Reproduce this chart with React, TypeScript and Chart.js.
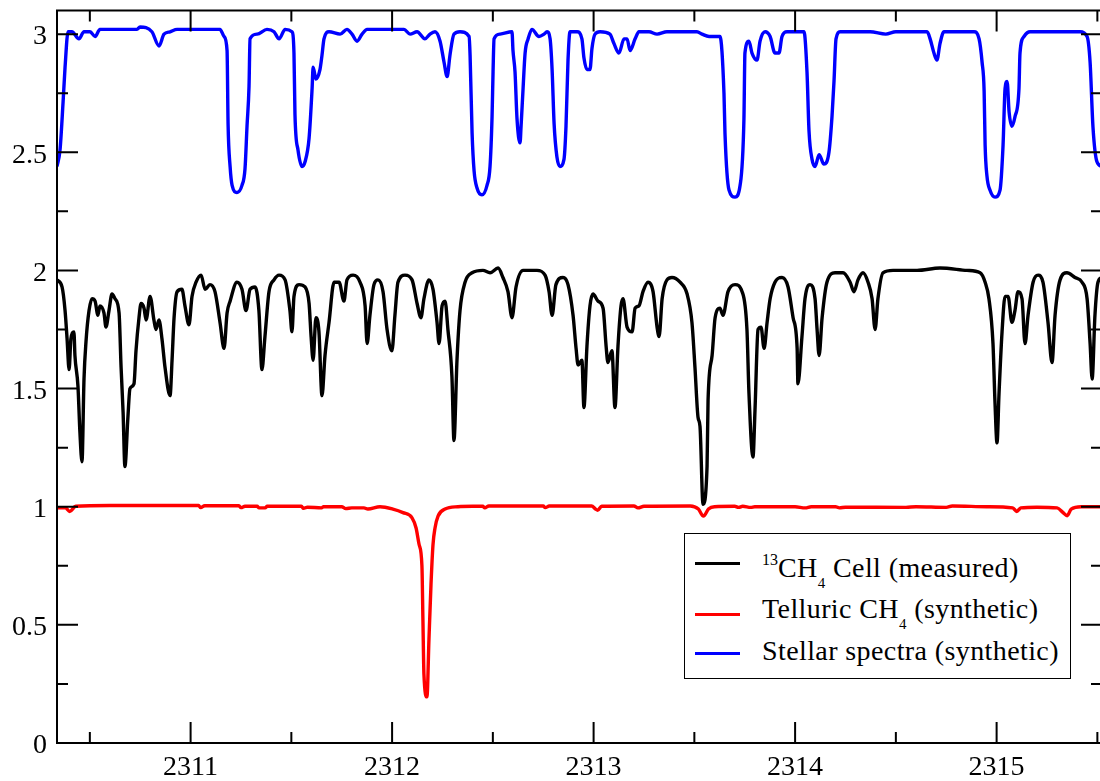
import React, { useEffect, useRef } from "react";
import { Chart, registerables } from "chart.js";

Chart.register(...registerables);

// Wavelength (nm) and normalised flux + offset
const cellSpectrum: [number, number][] = [
  [2310.337,1.96],[2310.362,1.93],[2310.377,1.83],[2310.387,1.71],[2310.397,1.58],[2310.406,1.71],[2310.421,1.74],[2310.426,1.64],[2310.441,1.51],[2310.451,1.31],[2310.461,1.19],[2310.471,1.54],[2310.481,1.70],[2310.496,1.83],[2310.511,1.88],[2310.526,1.87],[2310.540,1.81],[2310.550,1.85],[2310.570,1.82],[2310.580,1.76],[2310.595,1.83],[2310.610,1.90],[2310.625,1.88],[2310.645,1.82],[2310.655,1.59],[2310.665,1.40],[2310.674,1.17],[2310.689,1.38],[2310.699,1.50],[2310.719,1.52],[2310.729,1.66],[2310.744,1.80],[2310.754,1.86],[2310.769,1.84],[2310.779,1.79],[2310.799,1.89],[2310.818,1.79],[2310.828,1.75],[2310.843,1.79],[2310.858,1.71],[2310.873,1.59],[2310.898,1.47],[2310.908,1.62],[2310.918,1.80],[2310.933,1.91],[2310.957,1.92],[2310.972,1.85],[2310.992,1.77],[2311.007,1.89],[2311.027,1.95],[2311.052,1.98],[2311.072,1.92],[2311.096,1.94],[2311.121,1.91],[2311.146,1.78],[2311.166,1.67],[2311.181,1.82],[2311.196,1.87],[2311.230,1.95],[2311.255,1.92],[2311.275,1.83],[2311.295,1.92],[2311.320,1.93],[2311.339,1.83],[2311.354,1.58],[2311.369,1.72],[2311.389,1.91],[2311.414,1.96],[2311.439,1.98],[2311.469,1.96],[2311.493,1.83],[2311.503,1.74],[2311.513,1.89],[2311.538,1.94],[2311.568,1.93],[2311.588,1.86],[2311.598,1.72],[2311.608,1.62],[2311.622,1.80],[2311.637,1.74],[2311.652,1.47],[2311.667,1.64],[2311.687,1.78],[2311.712,1.95],[2311.737,1.95],[2311.761,1.87],[2311.776,1.96],[2311.806,1.98],[2311.841,1.95],[2311.866,1.85],[2311.876,1.69],[2311.890,1.81],[2311.910,1.94],[2311.930,1.96],[2311.955,1.91],[2311.975,1.75],[2311.999,1.66],[2312.014,1.81],[2312.029,1.95],[2312.064,1.98],[2312.099,1.96],[2312.124,1.86],[2312.143,1.80],[2312.158,1.88],[2312.183,1.96],[2312.203,1.92],[2312.223,1.78],[2312.233,1.69],[2312.248,1.85],[2312.263,1.87],[2312.277,1.75],[2312.297,1.55],[2312.307,1.28],[2312.322,1.62],[2312.337,1.83],[2312.362,1.95],[2312.397,1.99],[2312.451,2.00],[2312.486,1.99],[2312.526,2.01],[2312.550,1.97],[2312.575,1.91],[2312.595,1.80],[2312.615,1.93],[2312.650,2.00],[2312.719,2.00],[2312.759,1.98],[2312.779,1.91],[2312.794,1.81],[2312.813,1.94],[2312.848,1.97],[2312.873,1.94],[2312.898,1.81],[2312.913,1.67],[2312.923,1.60],[2312.942,1.62],[2312.952,1.42],[2312.967,1.68],[2312.982,1.85],[2312.997,1.90],[2313.022,1.87],[2313.047,1.84],[2313.062,1.68],[2313.071,1.61],[2313.091,1.66],[2313.106,1.42],[2313.121,1.68],[2313.136,1.85],[2313.146,1.88],[2313.166,1.76],[2313.191,1.74],[2313.206,1.84],[2313.225,1.85],[2313.245,1.91],[2313.270,1.95],[2313.295,1.91],[2313.315,1.76],[2313.325,1.72],[2313.340,1.88],[2313.364,1.96],[2313.389,1.97],[2313.429,1.95],[2313.464,1.90],[2313.488,1.78],[2313.503,1.59],[2313.518,1.38],[2313.528,1.34],[2313.543,1.01],[2313.563,1.17],[2313.568,1.45],[2313.588,1.64],[2313.603,1.80],[2313.627,1.84],[2313.642,1.81],[2313.667,1.91],[2313.702,1.94],[2313.737,1.91],[2313.761,1.75],[2313.771,1.48],[2313.791,1.21],[2313.801,1.41],[2313.816,1.75],[2313.831,1.76],[2313.846,1.67],[2313.861,1.78],[2313.876,1.88],[2313.900,1.95],[2313.935,1.97],[2313.965,1.93],[2313.990,1.80],[2314.010,1.67],[2314.014,1.52],[2314.034,1.72],[2314.049,1.88],[2314.074,1.94],[2314.099,1.88],[2314.109,1.75],[2314.119,1.64],[2314.134,1.80],[2314.158,1.95],[2314.198,1.99],[2314.238,1.99],[2314.273,1.95],[2314.292,1.91],[2314.312,1.96],[2314.337,1.99],[2314.362,1.95],[2314.382,1.88],[2314.397,1.75],[2314.411,1.88],[2314.436,1.99],[2314.486,2.00],[2314.605,2.00],[2314.719,2.01],[2314.853,2.00],[2314.918,1.99],[2314.943,1.95],[2314.962,1.88],[2314.982,1.69],[2314.992,1.44],[2315.002,1.27],[2315.012,1.48],[2315.027,1.74],[2315.042,1.89],[2315.057,1.89],[2315.076,1.78],[2315.091,1.83],[2315.106,1.91],[2315.126,1.88],[2315.141,1.69],[2315.156,1.81],[2315.181,1.95],[2315.206,1.98],[2315.230,1.95],[2315.255,1.78],[2315.275,1.61],[2315.290,1.81],[2315.315,1.96],[2315.349,1.99],[2315.389,1.97],[2315.424,1.95],[2315.449,1.88],[2315.464,1.69],[2315.474,1.54],[2315.488,1.81],[2315.503,1.95],[2315.523,1.97]
];

const telluricSpectrum: [number, number][] = [
  [2310.337,0.995],[2310.38,0.995],[2310.40,0.98],[2310.43,1.002],[2310.60,1.005],[2311.04,1.005],[2311.05,0.996],[2311.07,1.004],[2311.24,1.004],[2311.25,0.996],[2311.27,1.002],[2311.33,1.002],[2311.34,0.995],[2311.37,0.995],[2311.38,1.002],[2311.55,1.002],[2311.56,0.993],[2311.58,0.998],[2311.65,0.995],[2311.66,1.0],[2311.75,1.0],[2311.77,0.992],[2311.80,0.995],[2311.86,0.995],[2311.88,0.99],[2311.94,1.0],[2312.004,0.99],[2312.054,0.975],[2312.099,0.953],[2312.119,0.91],[2312.134,0.84],[2312.148,0.75],[2312.153,0.52],[2312.158,0.29],[2312.173,0.195],[2312.183,0.44],[2312.193,0.67],[2312.203,0.84],[2312.213,0.91],[2312.228,0.96],[2312.263,0.99],[2312.327,1.0],[2312.40,1.002],[2312.45,1.002],[2312.46,0.995],[2312.48,1.003],[2312.75,1.003],[2312.76,0.996],[2312.78,1.003],[2312.99,1.003],[2313.01,0.99],[2313.02,0.985],[2313.04,1.002],[2313.20,1.003],[2313.22,0.995],[2313.25,1.002],[2313.48,1.003],[2313.52,0.99],[2313.545,0.96],[2313.57,0.99],[2313.60,1.0],[2313.70,1.002],[2313.72,0.997],[2313.74,1.002],[2313.78,0.997],[2313.80,1.0],[2314.00,1.0],[2314.05,0.995],[2314.08,1.0],[2314.20,1.0],[2314.22,0.995],[2314.25,0.998],[2314.55,0.997],[2314.60,1.0],[2314.75,0.997],[2314.78,1.003],[2314.95,1.0],[2315.08,0.995],[2315.10,0.98],[2315.12,0.995],[2315.20,0.998],[2315.30,0.995],[2315.33,0.975],[2315.35,0.962],[2315.37,0.99],[2315.42,1.0],[2315.523,1.0]
];

const stellarSpectrum: [number, number][] = [
  [2310.337,2.44],[2310.352,2.51],[2310.367,2.71],[2310.377,2.86],[2310.392,3.01],[2310.411,3.01],[2310.446,2.98],[2310.471,3.01],[2310.501,3.01],[2310.526,2.99],[2310.550,3.02],[2310.734,3.02],[2310.749,3.03],[2310.808,3.01],[2310.843,2.95],[2310.868,3.00],[2310.898,3.01],[2310.933,3.02],[2311.146,3.02],[2311.166,2.99],[2311.181,2.93],[2311.186,2.62],[2311.196,2.44],[2311.206,2.36],[2311.230,2.33],[2311.255,2.36],[2311.270,2.43],[2311.280,2.61],[2311.290,2.78],[2311.295,2.98],[2311.330,3.00],[2311.379,3.02],[2311.414,3.01],[2311.439,2.98],[2311.469,3.02],[2311.503,3.01],[2311.513,2.92],[2311.518,2.66],[2311.533,2.51],[2311.553,2.44],[2311.568,2.46],[2311.588,2.56],[2311.603,2.77],[2311.608,2.86],[2311.622,2.81],[2311.642,2.85],[2311.652,2.91],[2311.662,2.98],[2311.687,3.01],[2311.742,3.00],[2311.776,3.02],[2311.801,3.00],[2311.826,2.97],[2311.851,3.00],[2311.876,3.02],[2312.059,3.02],[2312.089,3.00],[2312.124,3.01],[2312.163,2.98],[2312.188,3.00],[2312.213,3.01],[2312.238,2.97],[2312.258,2.88],[2312.273,2.82],[2312.287,2.91],[2312.307,3.00],[2312.337,3.01],[2312.382,2.99],[2312.387,2.91],[2312.397,2.58],[2312.407,2.42],[2312.421,2.35],[2312.446,2.32],[2312.471,2.36],[2312.486,2.44],[2312.496,2.65],[2312.501,2.84],[2312.506,2.98],[2312.536,3.00],[2312.595,3.01],[2312.600,2.93],[2312.610,2.84],[2312.620,2.64],[2312.635,2.54],[2312.640,2.61],[2312.650,2.77],[2312.660,2.92],[2312.675,2.98],[2312.694,3.02],[2312.729,2.99],[2312.754,3.00],[2312.769,3.01],[2312.784,2.98],[2312.794,2.85],[2312.804,2.62],[2312.818,2.48],[2312.833,2.44],[2312.853,2.47],[2312.863,2.61],[2312.873,2.89],[2312.883,3.01],[2312.918,3.01],[2312.942,2.98],[2312.952,2.90],[2312.967,2.85],[2312.982,2.85],[2312.992,2.94],[2313.007,3.00],[2313.032,3.01],[2313.081,3.00],[2313.101,2.96],[2313.126,2.92],[2313.151,2.98],[2313.166,2.98],[2313.181,2.93],[2313.206,2.98],[2313.225,3.01],[2313.275,3.01],[2313.315,3.00],[2313.364,3.01],[2313.513,3.01],[2313.538,3.00],[2313.573,2.99],[2313.627,2.99],[2313.647,2.75],[2313.652,2.58],[2313.672,2.34],[2313.702,2.31],[2313.727,2.36],[2313.746,2.64],[2313.751,2.92],[2313.771,2.97],[2313.786,2.92],[2313.811,2.89],[2313.826,2.97],[2313.851,3.01],[2313.876,2.99],[2313.900,2.92],[2313.920,2.92],[2313.935,2.99],[2313.960,3.01],[2314.044,3.01],[2314.059,2.84],[2314.069,2.59],[2314.084,2.47],[2314.099,2.44],[2314.119,2.49],[2314.143,2.45],[2314.168,2.50],[2314.183,2.65],[2314.193,2.80],[2314.203,2.98],[2314.223,3.01],[2314.372,3.01],[2314.45,3.00],[2314.50,3.01],[2314.655,3.01],[2314.670,2.98],[2314.689,2.92],[2314.704,2.89],[2314.719,2.96],[2314.739,3.01],[2314.888,3.01],[2314.913,2.98],[2314.928,2.88],[2314.938,2.76],[2314.943,2.53],[2314.952,2.40],[2314.967,2.34],[2314.992,2.31],[2315.017,2.34],[2315.032,2.53],[2315.042,2.77],[2315.052,2.80],[2315.062,2.67],[2315.076,2.61],[2315.091,2.65],[2315.111,2.77],[2315.116,2.92],[2315.136,2.99],[2315.166,3.01],[2315.414,3.01],[2315.449,2.99],[2315.464,2.88],[2315.478,2.61],[2315.498,2.46],[2315.523,2.44]
];

const seriesLabels = ["13CH4 Cell (measured)", "Telluric CH4 (synthetic)", "Stellar spectra (synthetic)"];
const seriesColors = ["#000000", "#ff0000", "#0000ff"];

const xRange = [2310.337, 2315.523];
const yRange = [0, 3.1];
const xMajorTicks = [2311, 2312, 2313, 2314, 2315];
const xMinorTicks = [2310.5, 2311.5, 2312.5, 2313.5, 2314.5, 2315.5];
const yMajorTicks = [0, 0.5, 1, 1.5, 2, 2.5, 3];
const yMinorTicks = [0.25, 0.75, 1.25, 1.75, 2.25, 2.75];

const SERIF = "'Liberation Serif', 'Times New Roman', serif";

const framePlugin = {
  id: "frameTicks",
  afterDatasetsDraw(chart: any) {
    const { ctx, chartArea: a, scales } = chart;
    const xs = scales.x;
    const ys = scales.y;
    ctx.save();
    ctx.strokeStyle = "#000";
    ctx.lineWidth = 2;
    ctx.beginPath();
    const tick = (vals: number[], len: number, horiz: boolean) => {
      vals.forEach((v) => {
        if (horiz) {
          const p = xs.getPixelForValue(v);
          ctx.moveTo(p, a.bottom);
          ctx.lineTo(p, a.bottom - len);
          ctx.moveTo(p, a.top);
          ctx.lineTo(p, a.top + len);
        } else {
          const p = ys.getPixelForValue(v);
          ctx.moveTo(a.left, p);
          ctx.lineTo(a.left + len, p);
          ctx.moveTo(a.right, p);
          ctx.lineTo(a.right - len, p);
        }
      });
    };
    tick(xMajorTicks, 21, true);
    tick(xMinorTicks, 11, true);
    tick(yMajorTicks, 21, false);
    tick(yMinorTicks, 11, false);
    ctx.stroke();
    ctx.strokeRect(a.left, a.top, a.right - a.left, a.bottom - a.top);
    ctx.restore();
  },
};

export default function App() {
  const canvasRef = useRef<HTMLCanvasElement | null>(null);

  useEffect(() => {
    if (!canvasRef.current) return;
    const series = [cellSpectrum, telluricSpectrum, stellarSpectrum];
    const chart = new Chart(canvasRef.current, {
      type: "line",
      data: {
        datasets: series.map((s, i) => ({
          label: seriesLabels[i],
          data: s.map(([x, y]) => ({ x, y })),
          borderColor: seriesColors[i],
          backgroundColor: seriesColors[i],
          borderWidth: 3.4,
          pointRadius: 0,
          cubicInterpolationMode: "monotone" as const,
          borderJoinStyle: "round" as const,
          fill: false,
        })),
      },
      options: {
        responsive: false,
        maintainAspectRatio: false,
        devicePixelRatio: 1,
        animation: false,
        layout: { padding: { top: 10.5, right: 2, left: 0, bottom: 0 } },
        plugins: { legend: { display: false }, tooltip: { enabled: false } },
        scales: {
          x: {
            type: "linear",
            min: xRange[0],
            max: xRange[1],
            grid: { display: false, drawTicks: false },
            border: { display: false },
            afterBuildTicks: (scale: any) => {
              scale.ticks = xMajorTicks.map((v) => ({ value: v }));
            },
            afterFit: (scale: any) => {
              scale.height = 38;
              scale.paddingLeft = 0;
              scale.paddingRight = 0;
            },
            ticks: {
              autoSkip: false,
              maxRotation: 0,
              padding: 8,
              color: "#000",
              font: { family: SERIF, size: 28 },
              callback: (v: any) => String(v),
            },
          },
          y: {
            type: "linear",
            min: yRange[0],
            max: yRange[1],
            grid: { display: false, drawTicks: false },
            border: { display: false },
            afterBuildTicks: (scale: any) => {
              scale.ticks = yMajorTicks.map((v) => ({ value: v }));
            },
            afterFit: (scale: any) => {
              scale.width = 57;
              scale.paddingTop = 0;
              scale.paddingBottom = 0;
            },
            ticks: {
              autoSkip: false,
              padding: 10,
              labelOffset: 3,
              color: "#000",
              font: { family: SERIF, size: 28 },
              callback: (v: any) => String(v),
            },
          },
        },
      },
      plugins: [framePlugin],
    });
    return () => chart.destroy();
  }, []);

  const rowText: React.CSSProperties = {
    position: "absolute",
    left: 762,
    fontFamily: SERIF,
    fontSize: 28,
    letterSpacing: "0.4px",
    lineHeight: "32px",
    height: 32,
    whiteSpace: "nowrap",
    color: "#000",
  };
  const sup: React.CSSProperties = { fontSize: 16, verticalAlign: "12px", lineHeight: 0, letterSpacing: 0 };
  const sub: React.CSSProperties = { fontSize: 15, verticalAlign: "-11px", lineHeight: 0 };
  const sample = (top: number, color: string): React.CSSProperties => ({
    position: "absolute",
    left: 695,
    top,
    width: 45,
    height: 3,
    background: color,
  });

  return (
    <div
      style={{
        position: "absolute",
        left: 0,
        top: 0,
        width: 1100,
        height: 781,
        overflow: "hidden",
        background: "#fff",
      }}
    >
      <canvas ref={canvasRef} width={1104} height={781} style={{ width: 1104, height: 781, display: "block" }} />
      <div
        style={{
          position: "absolute",
          left: 684,
          top: 533,
          width: 387,
          height: 146,
          border: "1.5px solid #000",
          boxSizing: "border-box",
          background: "#fff",
        }}
      />
      <div style={sample(562, seriesColors[0])} />
      <div style={sample(613, seriesColors[1])} />
      <div style={sample(652, seriesColors[2])} />
      <div style={{ ...rowText, top: 552 }}>
        <span style={sup}>13</span>CH<span style={sub}>4</span> Cell (measured)
      </div>
      <div style={{ ...rowText, top: 593 }}>
        Telluric CH<span style={sub}>4</span> (synthetic)
      </div>
      <div style={{ ...rowText, top: 635 }}>Stellar spectra (synthetic)</div>
    </div>
  );
}
